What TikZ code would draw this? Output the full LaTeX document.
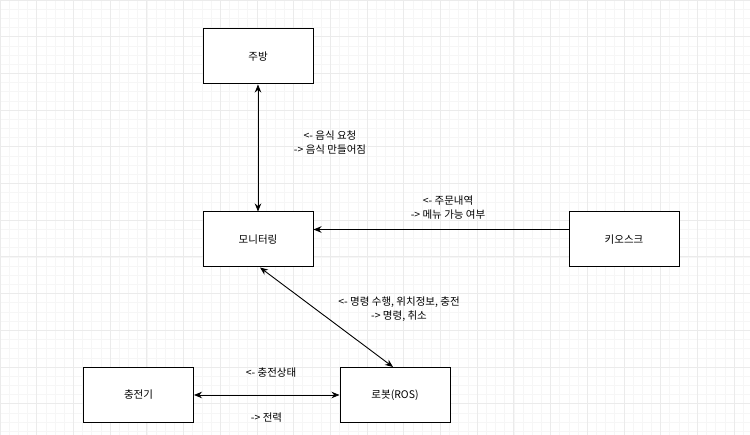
\documentclass[tikz,border=0pt]{standalone}
\usepackage{fontspec}
\setmainfont{Noto Sans CJK KR}
\usetikzlibrary{arrows.meta,calc}

\tikzset{
  unit/.style={draw, line width=1pt, fill=white, minimum width=110pt,
               minimum height=55pt, inner sep=0pt},
  link/.style={line width=0.9pt, >={Stealth[length=8pt,width=6.5pt]}},
  note/.style={align=center, inner sep=0pt}
}

\begin{document}
\begin{tikzpicture}[x=1pt, y=-1pt, font=\fontsize{10.5}{14}\selectfont]
     \useasboundingbox (0,0) rectangle (750,435);
     \draw[gray!7, line width=0.6pt, step=9.175pt] (0,0) grid (750,435);
     \draw[gray!16, line width=0.8pt, step=36.7pt] (0,0) grid (750,435);

     \node[unit] (kitchen) at (258,56.5)  {주방};
     \node[unit] (monitor) at (258,239.5) {모니터링};
     \node[unit] (kiosk)   at (624,239.5) {키오스크};
     \node[unit] (charger) at (138.5,395) {충전기};
     \node[unit] (robot)   at (395,395)   {로봇(ROS)};

     \path[link] (kitchen.south)             edge[<->] (monitor.north)
                 ([yshift=10pt]kiosk.west)   edge[->]  ([yshift=10pt]monitor.east)
                 ([xshift=2pt]monitor.south) edge[<->] ([xshift=-2pt]robot.north)
                 (charger.east)              edge[<->] (robot.west);

     \node[note] (foodnote)   at (330,143) {<- 음식 요청\\-> 음식 만들어짐};
     \node[note] (ordernote)  at (448,208) {<- 주문내역\\-> 메뉴 가능 여부};
     \node[note] (cmdnote)    at (399,309) {<- 명령 수행, 위치정보, 충전\\-> 명령, 취소};
     \node[note] (statenote)  at (271,373) {<- 충전상태};
     \node[note] (powernote)  at (266.5,418) {-> 전력};
\end{tikzpicture}
\end{document}
